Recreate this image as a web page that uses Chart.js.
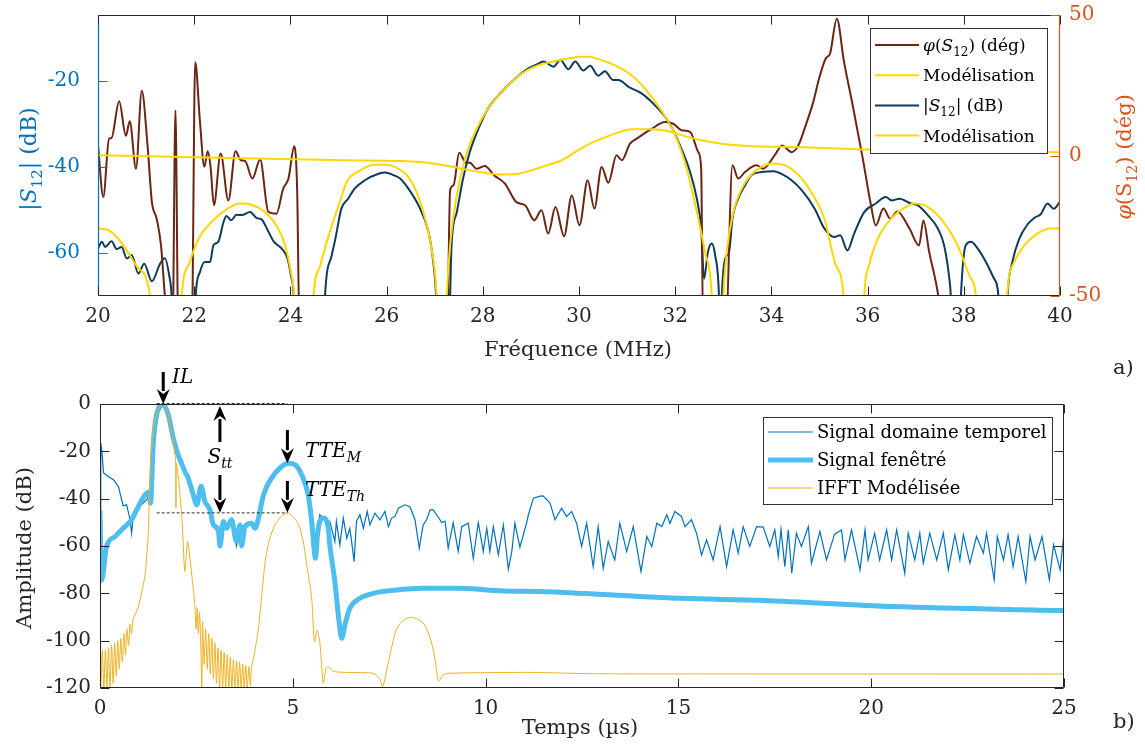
<!DOCTYPE html>
<html>
<head>
<meta charset="utf-8">
<script src="https://cdn.jsdelivr.net/npm/chart.js@4"></script>
<style>
  body { margin: 0; background: #fff; width: 1145px; height: 744px; position: relative; overflow: hidden; }
  canvas { position: absolute; left: 0; }
  #top { top: 0; }
  #bot { top: 360px; }
</style>
</head>
<body>
<canvas id="top" width="1145" height="365"></canvas>
<canvas id="bot" width="1145" height="384"></canvas>
<script>
// tick values
const freqTicks = [20, 22, 24, 26, 28, 30, 32, 34, 36, 38, 40];
const magTicks = [-60, -40, -20];
const phaseTicks = [-50, 0, 50];
const timeTicks = [0, 5, 10, 15, 20, 25];
const ampTicks = [-120, -100, -80, -60, -40, -20, 0];

// a) [MHz, degrees]  -- values below -50 run off the axis
const phaseMeas = [[20.00,3.6],[20.11,-14.8],[20.23,6],[20.28,6.2],[20.44,19.3],[20.58,7],[20.66,12.2],[20.79,-4.7],[20.91,23],[21.03,3.6],[21.12,-16.5],[21.22,-22.5],[21.31,-32],[21.39,-50],[21.45,-62],[21.55,-62],[21.61,16],[21.67,-62],[21.95,-62],[22.02,33.3],[22.12,12],[22.21,-4],[22.28,1.5],[22.34,-4],[22.41,-17.7],[22.55,0.7],[22.71,-16],[22.86,1.5],[22.97,-1.7],[23.06,-2],[23.21,-8.2],[23.37,-1.4],[23.54,-20],[23.71,-20.7],[23.85,-11.8],[23.96,-8.2],[24.08,3.3],[24.14,-12],[24.19,-62],[27.26,-62],[27.32,-12.4],[27.39,-10.6],[27.51,1],[27.65,-2.6],[27.73,-2.6],[27.87,-4.7],[28.04,-3.7],[28.24,-7.1],[28.46,-10],[28.70,-16.6],[28.88,-17.7],[29.07,-23],[29.22,-19.5],[29.36,-27.8],[29.51,-18.3],[29.69,-28.7],[29.85,-14.2],[30.01,-24.8],[30.18,-8.8],[30.32,-18.9],[30.47,-4.1],[30.61,-9.7],[30.78,0.1],[30.89,-1.7],[31.06,4.2],[31.20,6],[31.51,9.5],[31.79,11.9],[31.96,11.3],[32.13,9],[32.31,8.4],[32.48,1.2],[32.54,-4.7],[32.58,-62],[33.05,-62],[33.19,-3.5],[33.31,-8.2],[33.45,-5.9],[33.69,-3.5],[33.83,-4.7],[34.07,0.1],[34.22,3.6],[34.42,1.2],[34.56,3.6],[34.70,10.1],[34.87,19],[34.99,27.3],[35.13,34.5],[35.22,36.3],[35.36,48.7],[35.51,33.3],[35.69,17.9],[35.90,-1.1],[36.07,-17.7],[36.17,-24.9],[36.33,-18.9],[36.47,-22.5],[36.62,-19.9],[36.87,-26],[37.07,-32],[37.16,-23.1],[37.28,-34.3],[37.47,-50],[37.55,-62],[40,-62]];
const phaseModel = [[20,0.1],[22.5,-0.8],[25.14,-1.7],[26.31,-2],[27.0,-2.9],[27.56,-4.7],[28.04,-6.2],[28.46,-6.8],[28.74,-6.5],[29.01,-5.3],[29.29,-3.7],[29.64,-1.7],[29.92,1.2],[30.19,3.9],[30.47,6],[30.75,7.8],[31.09,9.3],[31.51,9.3],[31.86,8.6],[32.20,6.9],[32.55,5.4],[32.97,4.2],[33.52,3.4],[34.42,3],[35.11,2.7],[36,2.1],[40,1.2]];

// a) [MHz, dB]  -- values below -70 run off the axis
const magMeas = [[20.00,-59],[20.08,-57.4],[20.15,-58.6],[20.28,-57.3],[20.39,-59.1],[20.49,-58.6],[20.60,-61.3],[20.70,-60.5],[20.84,-64.8],[20.96,-62.5],[21.12,-66.6],[21.29,-62.5],[21.39,-61.2],[21.48,-65.2],[21.53,-70],[21.56,-80],[22.00,-80],[22.03,-70],[22.12,-64.4],[22.22,-62.1],[22.33,-62.1],[22.40,-58.2],[22.50,-57.4],[22.61,-52.8],[22.67,-51.4],[22.77,-52.4],[22.88,-51.1],[22.99,-51.2],[23.16,-50.5],[23.30,-51.9],[23.40,-52.2],[23.51,-54.3],[23.65,-57.3],[23.82,-59],[23.94,-61.3],[24.01,-65.2],[24.07,-70],[24.10,-80],[24.69,-80],[24.72,-70],[24.86,-60.5],[24.93,-57],[25.06,-49.7],[25.20,-47.4],[25.34,-45],[25.55,-43.1],[25.83,-41.6],[25.97,-41.3],[26.14,-41.9],[26.28,-42.7],[26.45,-45],[26.66,-48.9],[26.87,-55.1],[26.97,-62.1],[27.03,-70],[27.06,-80],[27.29,-80],[27.32,-70],[27.35,-58.2],[27.46,-50.5],[27.59,-42.7],[27.73,-36.5],[27.91,-31.1],[28.11,-26.4],[28.39,-22.6],[28.67,-19.5],[28.95,-17.1],[29.12,-16.2],[29.26,-15.5],[29.47,-16.7],[29.61,-15.1],[29.78,-17.3],[29.92,-15.5],[30.09,-17.6],[30.23,-16.5],[30.40,-18.8],[30.54,-17.8],[30.71,-19.8],[30.82,-19.8],[31.03,-21.4],[31.30,-22.9],[31.58,-25.7],[31.86,-29.5],[32.10,-35],[32.31,-41.2],[32.45,-47.4],[32.54,-54.3],[32.60,-66],[32.68,-59.8],[32.76,-57.8],[32.83,-60.5],[32.91,-70],[32.93,-80],[32.95,-80],[32.97,-70],[33.04,-61.3],[33.12,-59.8],[33.19,-52],[33.31,-47.4],[33.45,-44.3],[33.59,-41.9],[33.80,-41.2],[34.04,-41],[34.21,-41.6],[34.42,-43.1],[34.63,-45.4],[34.90,-49.7],[35.10,-54.3],[35.31,-56.3],[35.43,-55.9],[35.58,-59.4],[35.72,-55.5],[35.93,-50.5],[36.17,-48.5],[36.38,-47],[36.50,-47.8],[36.66,-47.4],[36.90,-48.5],[37.04,-48.9],[37.25,-51.2],[37.46,-54.3],[37.59,-58.2],[37.70,-66],[37.73,-70],[37.76,-80],[37.91,-80],[37.94,-70],[38.04,-58.2],[38.15,-57.4],[38.29,-59],[38.46,-62.1],[38.63,-66],[38.72,-70],[38.75,-80],[38.88,-80],[38.91,-70],[39.01,-62.1],[39.15,-56.8],[39.33,-53.3],[39.47,-51.8],[39.60,-51],[39.74,-48.5],[39.87,-49.7],[40,-48.1]];
const magModel = [[20.00,-54.3],[20.21,-54.7],[20.42,-56.7],[20.62,-59.8],[20.84,-63.6],[21.08,-70],[21.12,-80],[21.70,-80],[21.74,-70],[21.91,-62.1],[22.09,-56.7],[22.36,-52.8],[22.64,-50.1],[22.95,-48.5],[23.19,-48.8],[23.47,-50.5],[23.71,-53.6],[23.89,-58.2],[24.01,-64.4],[24.08,-70],[24.12,-80],[24.44,-80],[24.48,-70],[24.62,-62.9],[24.82,-55.1],[25.03,-48.1],[25.17,-43.5],[25.45,-40.8],[25.76,-39.5],[25.97,-39.5],[26.17,-40],[26.42,-41.9],[26.62,-45.8],[26.80,-52],[26.92,-58.2],[27.04,-70],[27.07,-80],[27.22,-80],[27.25,-70],[27.32,-58.2],[27.46,-46.6],[27.63,-38.1],[27.84,-31.9],[28.11,-26.4],[28.46,-21.8],[28.81,-18.3],[29.08,-16.7],[29.43,-15.6],[29.78,-14.8],[30.05,-14.4],[30.19,-14.4],[30.47,-15.2],[30.75,-16.4],[31.09,-18.7],[31.37,-21.8],[31.68,-26.4],[32.00,-32.6],[32.24,-40.4],[32.45,-50.5],[32.62,-59.8],[32.76,-70],[32.79,-80],[32.97,-80],[33.00,-70],[33.07,-59.8],[33.21,-50.5],[33.42,-44.3],[33.73,-40.4],[34.07,-39.2],[34.35,-40],[34.63,-42.7],[34.91,-47.4],[35.10,-52],[35.34,-62.9],[35.50,-70],[35.53,-80],[35.90,-80],[35.93,-70],[36.03,-62.9],[36.21,-56.7],[36.49,-52],[36.80,-49.3],[36.97,-48.5],[37.18,-48.9],[37.52,-52],[37.87,-58.2],[38.15,-66],[38.25,-70],[38.28,-80],[38.87,-80],[38.90,-70],[39.05,-62.1],[39.26,-58.2],[39.53,-55.5],[39.81,-54.3],[40,-54.3]];

// b) [µs, dB]
const sigTime = [[0.00,-46],[0.02,-16.5],[0.05,-20],[0.09,-29],[0.20,-30.5],[0.35,-32],[0.48,-35],[0.60,-43],[0.69,-42.6],[0.78,-48.9],[0.82,-54.6],[0.86,-47.5],[0.95,-45],[1.04,-43],[1.21,-40.5],[1.30,-37.7],[1.31,-41.9],[1.38,-17.2],[1.47,-4.5],[1.64,-0.3],[1.77,-4.5],[1.90,-14.4],[2.01,-20.7],[2.13,-25.7],[2.27,-30.6],[2.42,-38.4],[2.51,-42.6],[2.62,-34.8],[2.72,-41.2],[2.85,-44.7],[2.94,-51.1],[3.07,-55],[3.20,-49.6],[3.28,-52.5],[3.41,-48.9],[3.54,-60],[3.63,-51.1],[3.76,-51.8],[3.93,-50.4],[4.02,-52.5],[4.11,-48.2],[4.24,-38.4],[4.45,-31.3],[4.71,-26.4],[4.88,-25],[5.06,-25.7],[5.23,-29.9],[5.40,-38.4],[5.49,-49.6],[5.59,-65.2],[5.64,-55.3],[5.70,-46.8],[5.79,-48.2],[5.96,-49.6],[6.09,-58.1],[6.13,-49.6],[6.22,-59.5],[6.31,-48.2],[6.40,-56.7],[6.48,-52.5],[6.53,-58.8],[6.59,-66.6],[6.65,-49.6],[6.74,-46.8],[6.83,-52.5],[6.93,-45.4],[7.00,-51.1],[7.13,-46.1],[7.26,-49],[7.39,-45.4],[7.48,-51.8],[7.56,-48.2],[7.65,-47.5],[7.74,-44],[7.91,-42.6],[8.04,-43.5],[8.17,-49],[8.28,-60.9],[8.38,-51.1],[8.47,-48.9],[8.56,-44.7],[8.64,-44.7],[8.73,-46.8],[8.86,-50],[8.95,-49.6],[9.03,-60.9],[9.16,-50.2],[9.29,-62.3],[9.38,-51.8],[9.55,-50.4],[9.68,-65.2],[9.81,-50.1],[9.94,-62.3],[10.03,-52.5],[10.11,-62.3],[10.20,-51.8],[10.33,-63.7],[10.46,-51.1],[10.59,-69.8],[10.68,-62.3],[10.76,-50.4],[10.89,-60.5],[11.06,-50.4],[11.11,-46.8],[11.24,-39.8],[11.41,-38.9],[11.49,-38.8],[11.67,-41.9],[11.80,-48.9],[11.97,-44],[12.10,-47.5],[12.23,-45.4],[12.36,-50.4],[12.49,-60.2],[12.62,-50.4],[12.79,-68.7],[12.92,-51.8],[13.05,-69.4],[13.18,-58.1],[13.35,-65.9],[13.48,-50.4],[13.66,-62.3],[13.83,-51.8],[14.03,-70.8],[14.18,-56],[14.31,-60.2],[14.44,-50.4],[14.57,-51.8],[14.70,-46.8],[14.78,-50.4],[14.91,-45.4],[15.08,-47.5],[15.17,-51.8],[15.34,-48.9],[15.47,-54.6],[15.60,-63.8],[15.73,-57.4],[15.90,-65.9],[16.08,-51.8],[16.25,-68.7],[16.42,-53.2],[16.55,-63],[16.68,-51.8],[16.85,-60.2],[17.03,-51.8],[17.20,-52],[17.37,-60.2],[17.50,-53.2],[17.59,-64.5],[17.66,-53],[17.76,-68.7],[17.85,-53.2],[17.94,-71.5],[18.06,-54.6],[18.19,-60.2],[18.37,-51.8],[18.45,-67.3],[18.67,-53.9],[18.84,-65.9],[19.05,-55],[19.23,-53.2],[19.32,-65.9],[19.49,-53.2],[19.71,-70.1],[19.84,-53.2],[19.92,-65.9],[20.09,-54.6],[20.22,-65.9],[20.40,-53.2],[20.53,-65.9],[20.66,-53.2],[20.87,-71.5],[20.96,-54.6],[21.13,-65.9],[21.26,-54.6],[21.35,-67.3],[21.52,-54.6],[21.70,-65.9],[21.87,-54.6],[22.00,-70.1],[22.17,-55.3],[22.30,-65.9],[22.39,-55.3],[22.56,-67.3],[22.73,-56],[22.91,-63],[22.99,-54.6],[23.19,-74.3],[23.27,-56],[23.43,-65.9],[23.55,-55.3],[23.68,-68.7],[23.81,-56],[24.01,-75],[24.12,-56],[24.25,-65.9],[24.43,-56],[24.62,-74.3],[24.73,-59.5],[24.90,-70.1],[24.99,-56]];
const sigWindow = [[0.00,-45],[0.04,-74.5],[0.17,-60.2],[0.39,-56],[0.60,-52.5],[0.82,-48.9],[0.95,-44.7],[1.17,-38.4],[1.28,-37.2],[1.31,-41.9],[1.38,-17.2],[1.47,-4.5],[1.64,-0.3],[1.77,-4.5],[1.90,-14.4],[2.01,-20.7],[2.13,-25.7],[2.20,-28.5],[2.27,-30.6],[2.42,-38.4],[2.51,-42.6],[2.62,-34.8],[2.72,-41.2],[2.85,-44.7],[2.94,-51.1],[3.07,-53.2],[3.11,-60],[3.20,-49.6],[3.28,-52.5],[3.41,-48.9],[3.54,-58.1],[3.63,-51.1],[3.67,-60],[3.76,-51.8],[3.93,-50.4],[4.02,-52.5],[4.11,-48.2],[4.24,-38.4],[4.45,-31.3],[4.71,-26.4],[4.88,-25],[5.06,-25.7],[5.23,-29.9],[5.40,-38.4],[5.49,-49.6],[5.59,-65.2],[5.64,-55.3],[5.70,-49.6],[5.79,-48.2],[5.92,-52.5],[5.96,-59.5],[6.09,-75],[6.21,-93.4],[6.27,-99],[6.35,-93.4],[6.48,-86.3],[6.74,-82.1],[7.09,-80],[7.69,-78.6],[8.38,-77.9],[9.25,-77.9],[10.46,-79],[11.58,-79.3],[13.31,-80.7],[15.04,-82.1],[17.20,-83],[20.57,-85.6],[25,-87.3]];
const ifftModel = [[0.00,-104],[0.02,-120],[0.06,-104],[0.10,-120],[0.14,-104],[0.18,-120],[0.22,-103],[0.26,-120],[0.30,-102],[0.34,-118],[0.38,-101],[0.42,-115],[0.46,-100],[0.50,-112],[0.54,-99],[0.58,-109],[0.62,-97],[0.66,-106],[0.70,-95],[0.74,-102],[0.78,-93],[0.82,-97],[0.86,-91],[0.99,-86],[1.10,-78],[1.17,-72],[1.25,-55],[1.30,-30],[1.38,-10.2],[1.51,-2.4],[1.64,0],[1.77,-4.5],[1.88,-14.4],[1.96,-24],[1.97,-44],[1.98,-25],[2.05,-34],[2.13,-49.6],[2.20,-70.8],[2.27,-58.1],[2.36,-69.4],[2.46,-85],[2.49,-95],[2.52,-86],[2.55,-97],[2.58,-88],[2.61,-99],[2.64,-120],[2.66,-92],[2.70,-110],[2.74,-95],[2.78,-112],[2.82,-97],[2.86,-114],[2.90,-99],[2.94,-116],[2.98,-101],[3.02,-118],[3.06,-103],[3.10,-120],[3.14,-104],[3.18,-120],[3.22,-105],[3.26,-120],[3.30,-106],[3.34,-120],[3.38,-107],[3.42,-120],[3.46,-108],[3.50,-120],[3.54,-108.5],[3.58,-120],[3.62,-109],[3.66,-120],[3.70,-110],[3.74,-120],[3.78,-110.5],[3.82,-120],[3.86,-111],[3.90,-119],[3.93,-111],[4.00,-106],[4.06,-100],[4.11,-94.8],[4.20,-80],[4.28,-67],[4.40,-57],[4.54,-51],[4.70,-47.5],[4.86,-46],[5.00,-47.5],[5.15,-51],[5.27,-58],[5.38,-70],[5.49,-82],[5.56,-100.5],[5.63,-95.5],[5.70,-100.5],[5.79,-118],[5.86,-112],[5.92,-111],[6.05,-113],[6.65,-113.5],[7.09,-113.8],[7.25,-116],[7.33,-119.5],[7.48,-109],[7.69,-95],[7.90,-91],[8.10,-90.2],[8.35,-92],[8.47,-95],[8.60,-101],[8.69,-108],[8.78,-117],[8.90,-114.5],[9.07,-113.8],[10.1,-113.5],[11.15,-113.4],[12.0,-113.7],[13,-114],[25,-114.1]];

const serif = '"DejaVu Serif", serif';
const ink = '#262626';
const blue = '#0072bd';
const orange = '#d95319';
const gold = '#ffd700';
const brown = '#6a2612';
const navy = '#0c3b5e';

function pts(list) {
    return list.map(p => ({ x: p[0], y: p[1] }));
}

function fixedTicks(values) {
    return scale => { scale.ticks = values.map(v => ({ value: v })); };
}

// pin an axis to a fixed thickness and stop it pushing the plot area around
function pinSize(size) {
    return s => {
        if (s.isHorizontal()) s.height = size; else s.width = size;
        s.paddingTop = 0; s.paddingBottom = 0; s.paddingLeft = 0; s.paddingRight = 0;
    };
}

// draws text made of pieces (italic / subscript), centred on x,y unless align is 'left'
function richText(ctx, parts, x, y, size, color, rot, align) {
    ctx.save();
    ctx.translate(x, y);
    if (rot) ctx.rotate(rot);
    ctx.fillStyle = color;
    ctx.textBaseline = 'alphabetic';
    ctx.textAlign = 'left';
    const fontOf = p => (p.it ? 'italic ' : '') + Math.round(p.sub ? size * 0.68 : size) + 'px ' + serif;
    let w = 0;
    parts.forEach(p => { ctx.font = fontOf(p); w += ctx.measureText(p.t).width; });
    let cx = align === 'left' ? 0 : -w / 2;
    parts.forEach(p => {
        ctx.font = fontOf(p);
        ctx.fillText(p.t, cx, p.sub ? size * 0.62 : size * 0.35);
        cx += ctx.measureText(p.t).width;
    });
    ctx.restore();
}

function seg(ctx, x0, y0, x1, y1, color, width) {
    ctx.strokeStyle = color;
    ctx.lineWidth = width || 1;
    ctx.beginPath();
    ctx.moveTo(x0, y0);
    ctx.lineTo(x1, y1);
    ctx.stroke();
}

function arrow(ctx, x, y0, y1) {
    const dir = Math.sign(y1 - y0);
    const head = 13;
    seg(ctx, x, y0, x, y1 - dir * head, '#000', 3);
    ctx.fillStyle = '#000';
    ctx.beginPath();
    ctx.moveTo(x, y1);
    ctx.lineTo(x - 6.5, y1 - dir * (head + 2));
    ctx.lineTo(x, y1 - dir * (head - 3));
    ctx.lineTo(x + 6.5, y1 - dir * (head + 2));
    ctx.closePath();
    ctx.fill();
}

function legendBox(ctx, x0, y0, x1, y1) {
    ctx.fillStyle = '#fff';
    ctx.fillRect(x0, y0, x1 - x0, y1 - y0);
    ctx.strokeStyle = '#333';
    ctx.lineWidth = 1;
    ctx.strokeRect(x0 + 0.5, y0 + 0.5, x1 - x0, y1 - y0);
}

const tickFont = { family: serif, size: 20 };
const TL = 9;

const topDecor = {
    id: 'topDecor',
    afterDraw(chart) {
        const { ctx, chartArea: a, scales } = chart;
        const L = Math.round(a.left) + 0.5, R = Math.round(a.right) - 0.5;
        const T = Math.round(a.top) + 0.5, B = Math.round(a.bottom) - 0.5;
        ctx.save();
        seg(ctx, L, T, R, T, ink);
        seg(ctx, L, B, R, B, ink);
        seg(ctx, L, T, L, B, blue, 1.2);
        seg(ctx, R, T, R, B, orange, 1.2);
        freqTicks.forEach(v => {
            const x = Math.round(scales.x.getPixelForValue(v)) + 0.5;
            seg(ctx, x, B, x, B - TL, ink);
            seg(ctx, x, T, x, T + TL, ink);
        });
        magTicks.forEach(v => {
            const y = Math.round(scales.y.getPixelForValue(v)) + 0.5;
            seg(ctx, L, y, L + TL, y, blue);
        });
        phaseTicks.forEach(v => {
            const y = Math.round(scales.y2.getPixelForValue(v)) + 0.5;
            seg(ctx, R, y, R - TL, y, orange);
        });

        // legend
        legendBox(ctx, 870, 28, 1047, 153);
        const rows = [
            { c: brown, p: [{ t: 'φ', it: true }, { t: '(' }, { t: 'S', it: true }, { t: '12', sub: true }, { t: ') (dég)' }] },
            { c: gold, p: [{ t: 'Modélisation' }] },
            { c: navy, p: [{ t: '|' }, { t: 'S', it: true }, { t: '12', sub: true }, { t: '| (dB)' }] },
            { c: gold, p: [{ t: 'Modélisation' }] }
        ];
        rows.forEach((r, i) => {
            const y = 45 + i * 30.2;
            seg(ctx, 875, y, 919, y, r.c, 2);
            richText(ctx, r.p, 923, y, 17, '#000', 0, 'left');
        });

        // axis titles
        richText(ctx, [{ t: 'Fréquence (MHz)' }], 578, 349, 21, ink);
        richText(ctx, [{ t: '|' }, { t: 'S', it: true }, { t: '12', sub: true }, { t: '| (dB)' }], 28, 159, 22, blue, -Math.PI / 2);
        richText(ctx, [{ t: 'φ', it: true }, { t: '(S' }, { t: '12', sub: true }, { t: ') (dég)' }], 1124, 157, 21, orange, -Math.PI / 2);
        ctx.restore();
    }
};

const botDecor = {
    id: 'botDecor',
    afterDraw(chart) {
        const { ctx, chartArea: a, scales } = chart;
        const sx = v => scales.x.getPixelForValue(v);
        const sy = v => scales.y.getPixelForValue(v);
        const L = Math.round(a.left) + 0.5, R = Math.round(a.right) - 0.5;
        const T = Math.round(a.top) + 0.5, B = Math.round(a.bottom) - 0.5;
        ctx.save();
        seg(ctx, L, T, R, T, ink);
        seg(ctx, L, B, R, B, ink);
        seg(ctx, L, T, L, B, ink);
        seg(ctx, R, T, R, B, ink);
        timeTicks.forEach(v => {
            const x = Math.round(sx(v)) + 0.5;
            seg(ctx, x, B, x, B - TL, ink);
            seg(ctx, x, T, x, T + TL, ink);
        });
        ampTicks.forEach(v => {
            const y = Math.round(sy(v)) + 0.5;
            seg(ctx, L, y, L + TL, y, ink);
            seg(ctx, R, y, R - TL, y, ink);
        });

        // reference levels and arrows
        ctx.setLineDash([3, 2]);
        seg(ctx, sx(1.47), sy(0) - 0.5, sx(4.86), sy(0) - 0.5, '#333', 1);
        seg(ctx, sx(1.47), sy(-46), sx(4.86), sy(-46), '#333', 1);
        ctx.setLineDash([]);
        arrow(ctx, sx(1.64), 12, sy(0));
        arrow(ctx, sx(3.11), 82, sy(0) + 2);
        arrow(ctx, sx(3.11), 115, sy(-46));
        arrow(ctx, sx(4.86), 70, sy(-25));
        arrow(ctx, sx(4.86), 121, sy(-46));
        richText(ctx, [{ t: 'IL', it: true }], 172, 16, 20, '#000', 0, 'left');
        richText(ctx, [{ t: 'S', it: true }, { t: 'tt', it: true, sub: true }], sx(3.11), 96, 20, '#000');
        richText(ctx, [{ t: 'TTE', it: true }, { t: 'M', it: true, sub: true }], 305, 90, 20, '#000', 0, 'left');
        richText(ctx, [{ t: 'TTE', it: true }, { t: 'Th', it: true, sub: true }], 305, 129, 20, '#000', 0, 'left');

        // legend
        legendBox(ctx, 763, 57, 1052, 144);
        const rows = [
            { c: blue, w: 1.2, t: 'Signal domaine temporel' },
            { c: '#4dbeee', w: 5, t: 'Signal fenêtré' },
            { c: '#edb120', w: 1.2, t: 'IFFT Modélisée' }
        ];
        rows.forEach((r, i) => {
            const y = 72 + i * 28;
            seg(ctx, 768, y, 813, y, r.c, r.w);
            richText(ctx, [{ t: r.t }], 817, y, 18, '#000', 0, 'left');
        });

        // axis titles and panel letters
        richText(ctx, [{ t: 'Temps (µs)' }], 580, 367, 21, ink);
        richText(ctx, [{ t: 'Amplitude (dB)' }], 24, 188, 21, ink, -Math.PI / 2);
        richText(ctx, [{ t: 'a)' }], 1113, 7, 21, ink, 0, 'left');
        richText(ctx, [{ t: 'b)' }], 1113, 361, 21, ink, 0, 'left');
        ctx.restore();
    }
};

const lineOpts = {
    responsive: false,
    animation: false,
    events: [],
    elements: { point: { radius: 0 }, line: { cubicInterpolationMode: 'monotone' } },
    plugins: { legend: { display: false }, tooltip: { enabled: false } }
};

function axis(extra, color, padding) {
    return Object.assign({
        type: 'linear',
        grid: { display: false, drawTicks: false },
        border: { display: false },
        ticks: { font: tickFont, color: color, padding: padding, autoSkip: false, maxRotation: 0, callback: v => String(v) }
    }, extra);
}

new Chart(document.getElementById('top'), {
    type: 'line',
    data: {
        datasets: [
            { data: pts(phaseModel), yAxisID: 'y2', borderColor: gold, borderWidth: 2, clip: 0 },
            { data: pts(magModel), yAxisID: 'y', borderColor: gold, borderWidth: 2, clip: 0 },
            { data: pts(phaseMeas), yAxisID: 'y2', borderColor: brown, borderWidth: 2, clip: 0 },
            { data: pts(magMeas), yAxisID: 'y', borderColor: navy, borderWidth: 2, clip: 0 }
        ]
    },
    options: Object.assign({}, lineOpts, {
        layout: { padding: { top: 15, left: 0, right: 0, bottom: 0 } },
        scales: {
            x: axis({ position: 'bottom', min: 20, max: 40, afterBuildTicks: fixedTicks(freqTicks), afterFit: pinSize(69) }, ink, 9),
            y: axis({ position: 'left', min: -70, max: -4.7, afterBuildTicks: fixedTicks(magTicks), afterFit: pinSize(98) }, blue, 18),
            y2: axis({ position: 'right', min: -50, max: 50, afterBuildTicks: fixedTicks(phaseTicks), afterFit: pinSize(85) }, orange, 9)
        }
    }),
    plugins: [topDecor]
});

new Chart(document.getElementById('bot'), {
    type: 'line',
    data: {
        datasets: [
            { data: pts(ifftModel), borderColor: '#edb120', borderWidth: 1, clip: 0, cubicInterpolationMode: 'default', tension: 0.25 },
            { data: pts(sigWindow), borderColor: '#4dbeee', borderWidth: 5, clip: 0 },
            { data: pts(sigTime), borderColor: blue, borderWidth: 1.2, clip: 0, cubicInterpolationMode: 'default', tension: 0 }
        ]
    },
    options: Object.assign({}, lineOpts, {
        layout: { padding: { top: 44, left: 0, right: 81, bottom: 0 } },
        scales: {
            x: axis({ position: 'bottom', min: 0, max: 25, afterBuildTicks: fixedTicks(timeTicks), afterFit: pinSize(56) }, ink, 9),
            y: axis({ position: 'left', min: -120, max: 0, afterBuildTicks: fixedTicks(ampTicks), afterFit: pinSize(100) }, ink, 9)
        }
    }),
    plugins: [botDecor]
});
</script>
</body>
</html>
